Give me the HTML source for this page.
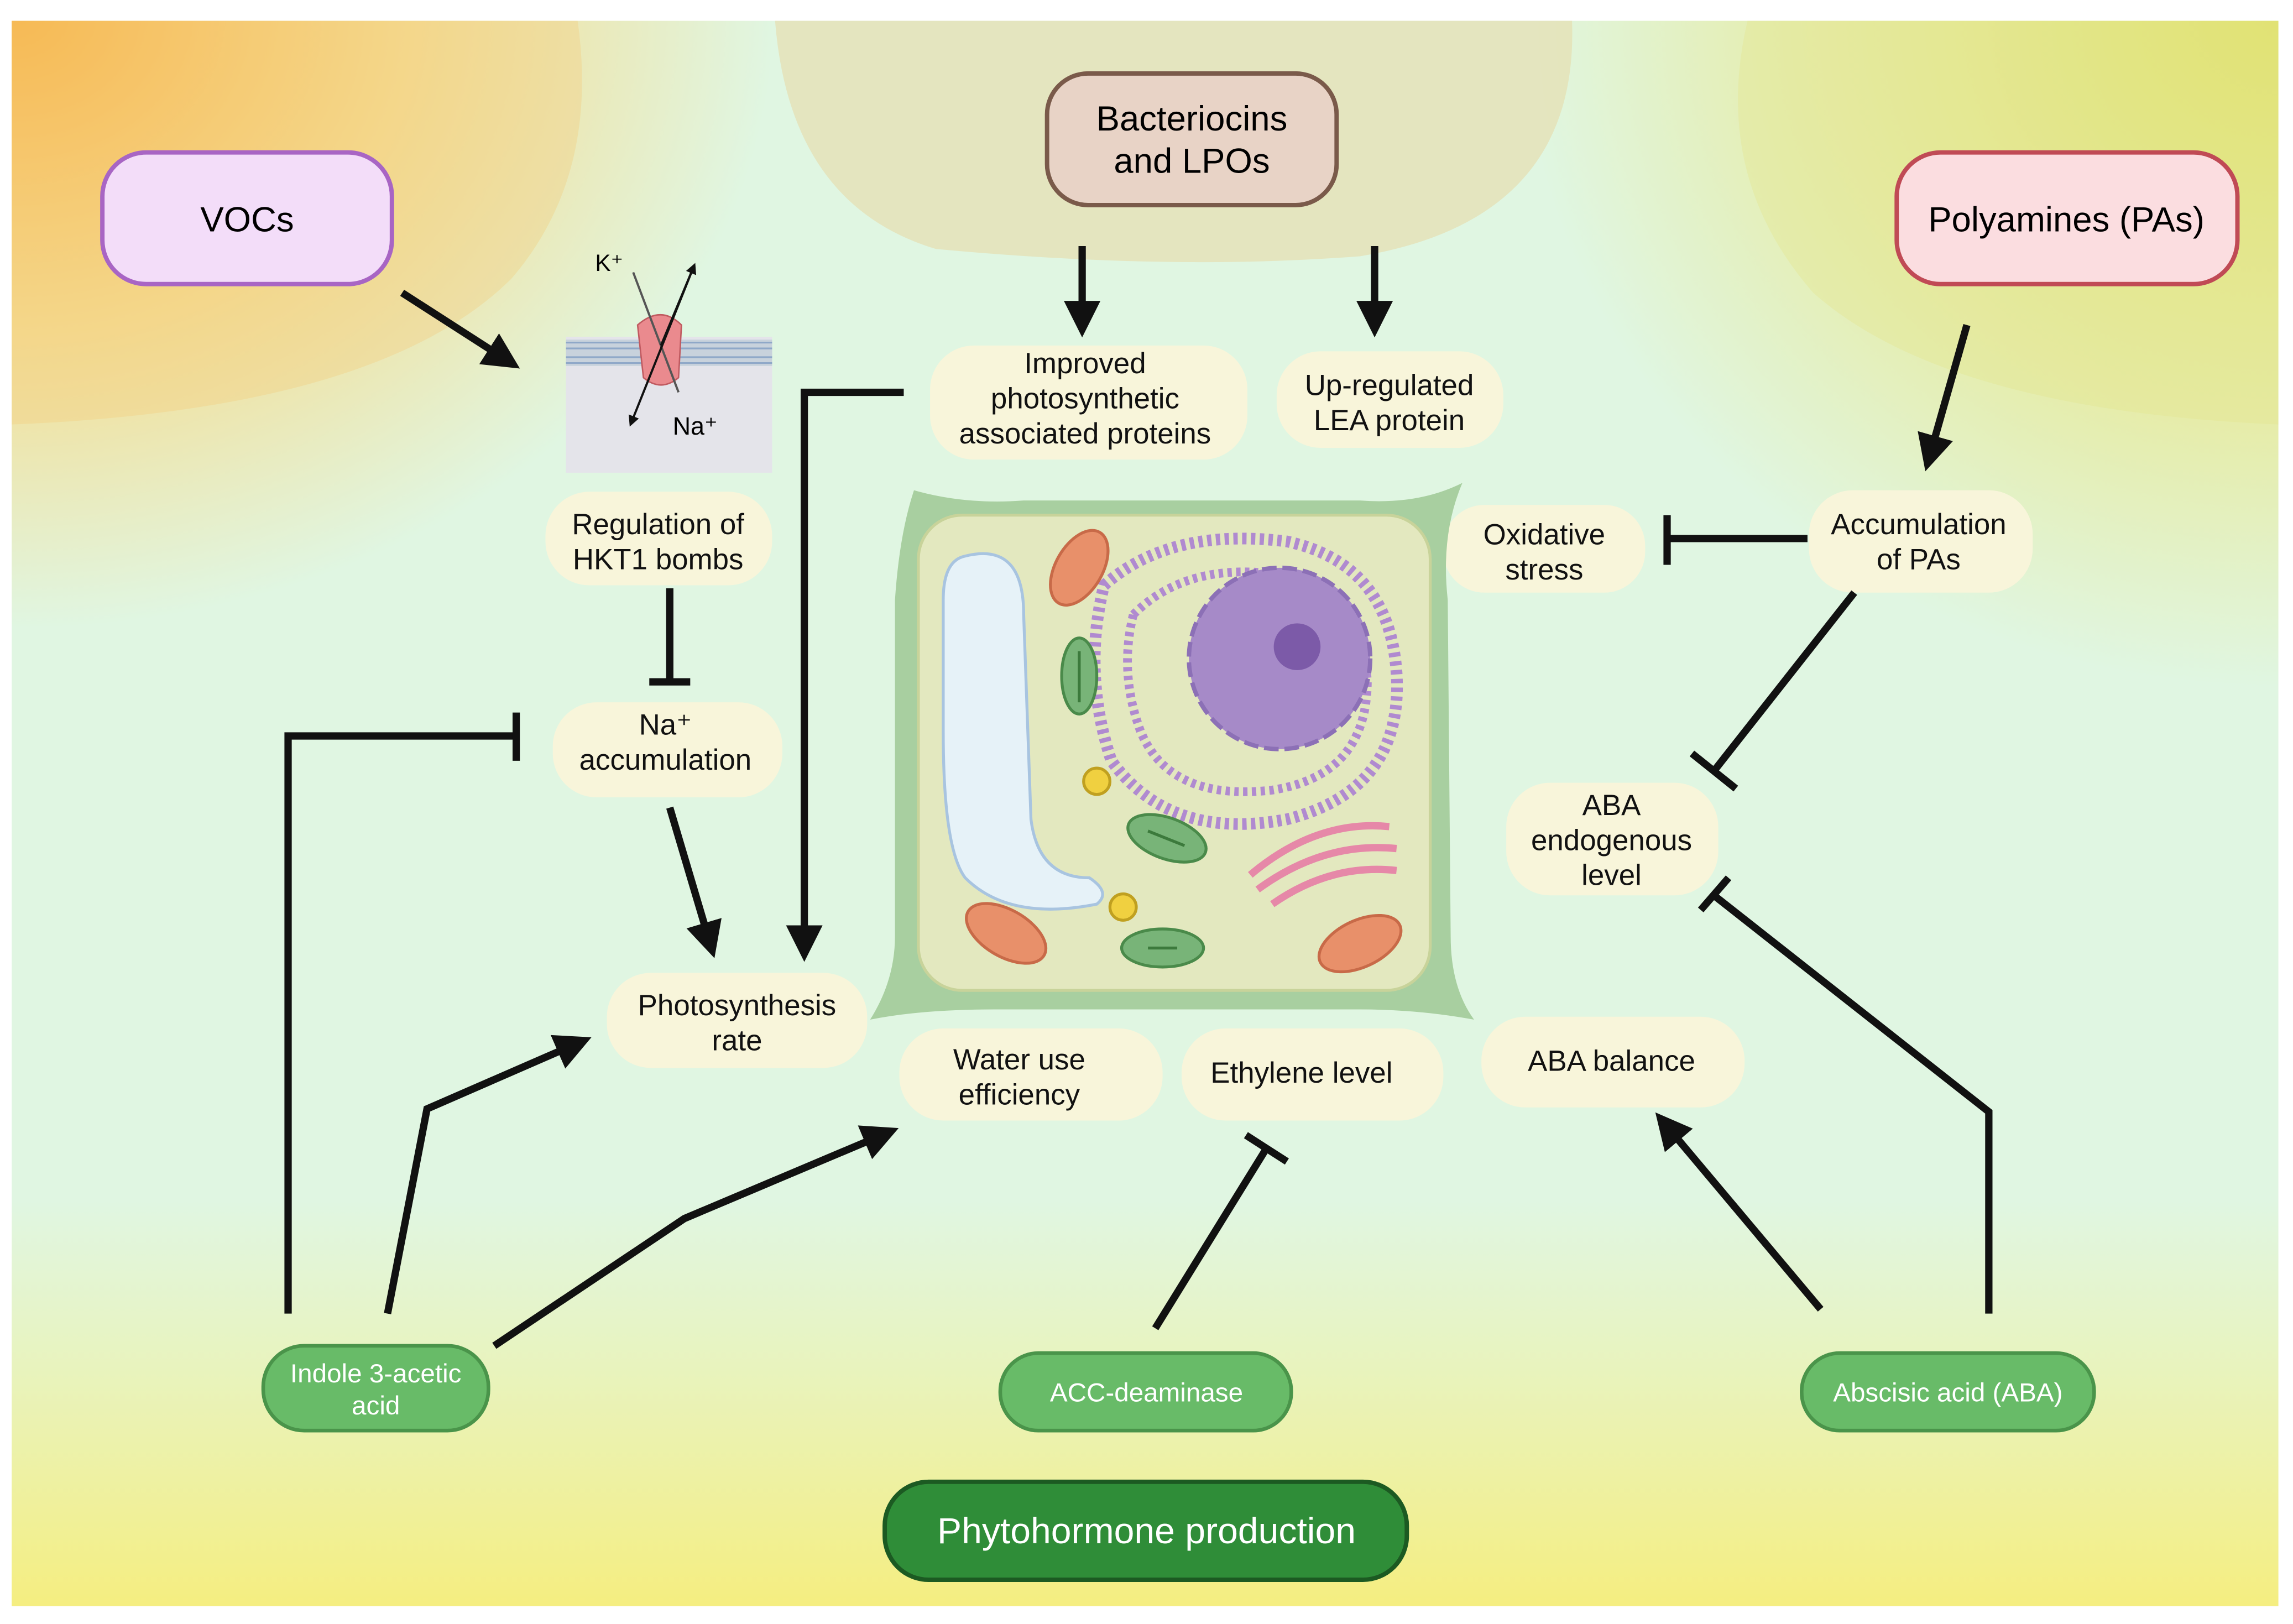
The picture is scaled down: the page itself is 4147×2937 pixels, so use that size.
<!DOCTYPE html>
<html><head><meta charset="utf-8"><style>
html,body{margin:0;padding:0;background:#fff}
svg{display:block}
text{font-family:"Liberation Sans",sans-serif;}
</style></head><body>
<svg width="4147" height="2937" viewBox="0 0 1568 1110" xmlns="http://www.w3.org/2000/svg">
<defs>
<radialGradient id="gtl" cx="0" cy="0" r="1" gradientUnits="userSpaceOnUse" gradientTransform="translate(10,10) scale(520,420)">
<stop offset="0" stop-color="#f8b040"/><stop offset="0.5" stop-color="#f5dc90"/><stop offset="1" stop-color="#f5dc90" stop-opacity="0"/></radialGradient>
<radialGradient id="gtr" cx="0" cy="0" r="1" gradientUnits="userSpaceOnUse" gradientTransform="translate(1560,10) scale(520,460)">
<stop offset="0" stop-color="#dfe060"/><stop offset="0.6" stop-color="#e6eca8"/><stop offset="1" stop-color="#e6eca8" stop-opacity="0"/></radialGradient>
<linearGradient id="gb" x1="0" y1="0" x2="0" y2="1"><stop offset="0" stop-color="#f3f090" stop-opacity="0"/><stop offset="1" stop-color="#f5ee80"/></linearGradient>
<marker id="ah" markerWidth="5" markerHeight="5" refX="2.5" refY="2.5" orient="auto" markerUnits="strokeWidth"><path d="M0,0 L5,2.5 L0,5 z" fill="#111"/></marker>
</defs>
<rect x="0" y="0" width="1568" height="1110" fill="#fff"/>
<rect x="8" y="14" width="1550" height="1084" fill="#e0f6e2"/>
<rect x="8" y="14" width="1550" height="1084" fill="url(#gtl)"/>
<rect x="8" y="14" width="1550" height="1084" fill="url(#gtr)"/>
<rect x="8" y="820" width="1550" height="278" fill="url(#gb)"/>
<path d="M8,14 H395 Q410,120 350,190 Q260,280 8,290 Z" fill="#f4cc7a" opacity="0.35"/>
<path d="M530,14 H1075 Q1080,150 930,175 Q800,185 640,170 Q540,140 530,14 Z" fill="#e6deb0" opacity="0.7"/>
<path d="M1558,14 H1195 Q1170,120 1240,200 Q1330,280 1558,290 Z" fill="#e4e690" opacity="0.4"/>

<rect x="70" y="104" width="198" height="90" rx="30" fill="#f3ddf9" stroke="#a865c4" stroke-width="3"/>
<text x="169" y="158" font-size="24" text-anchor="middle">VOCs</text>
<rect x="716" y="50" width="198" height="90" rx="28" fill="#e8d3c6" stroke="#7a5a4a" stroke-width="3"/>
<text x="815" y="89" font-size="24" text-anchor="middle">Bacteriocins</text>
<text x="815" y="118" font-size="24" text-anchor="middle">and LPOs</text>
<rect x="1297" y="104" width="233" height="90" rx="30" fill="#fbdde0" stroke="#c04a55" stroke-width="3"/>
<text x="1413" y="158" font-size="24" text-anchor="middle">Polyamines (PAs)</text>
<rect x="605" y="1013" width="357" height="67" rx="30" fill="#2f8d38" stroke="#1c5a22" stroke-width="3"/>
<text x="784" y="1055" font-size="25" fill="#fff" text-anchor="middle">Phytohormone production</text>

<g fill="#68bb68" stroke="#4a944a" stroke-width="2.5">
<rect x="180" y="920" width="154" height="58" rx="28"/>
<rect x="684" y="925" width="199" height="53" rx="26"/>
<rect x="1232" y="925" width="200" height="53" rx="26"/>
</g>
<g fill="#fff" font-size="18" text-anchor="middle">
<text x="257" y="945">Indole 3-acetic</text><text x="257" y="967">acid</text>
<text x="784" y="958">ACC-deaminase</text>
<text x="1332" y="958">Abscisic acid (ABA)</text>
</g>

<g fill="#f8f5da">
<rect x="636" y="236" width="217" height="78" rx="30"/>
<rect x="873" y="240" width="155" height="66" rx="30"/>
<rect x="373" y="336" width="155" height="64" rx="30"/>
<rect x="378" y="480" width="157" height="65" rx="30"/>
<rect x="415" y="665" width="178" height="65" rx="30"/>
<rect x="615" y="703" width="180" height="63" rx="30"/>
<rect x="808" y="703" width="179" height="63" rx="30"/>
<rect x="1013" y="695" width="180" height="62" rx="30"/>
<rect x="1030" y="535" width="145" height="77" rx="30"/>
<rect x="987" y="345" width="138" height="60" rx="28"/>
<rect x="1237" y="335" width="153" height="70" rx="30"/>
</g>
<g font-size="20" text-anchor="middle" fill="#111">
<text x="742" y="255">Improved</text><text x="742" y="279">photosynthetic</text><text x="742" y="303">associated proteins</text>
<text x="950" y="270">Up-regulated</text><text x="950" y="294">LEA protein</text>
<text x="450" y="365">Regulation of</text><text x="450" y="389">HKT1 bombs</text>
<text x="455" y="502">Na⁺</text><text x="455" y="526">accumulation</text>
<text x="504" y="694">Photosynthesis</text><text x="504" y="718">rate</text>
<text x="697" y="731">Water use</text><text x="697" y="755">efficiency</text>
<text x="890" y="740">Ethylene level</text>
<text x="1102" y="732">ABA balance</text>
<text x="1102" y="557">ABA</text><text x="1102" y="581">endogenous</text><text x="1102" y="605">level</text>
<text x="1056" y="372">Oxidative</text><text x="1056" y="396">stress</text>
<text x="1312" y="365">Accumulation</text><text x="1312" y="389">of PAs</text>
</g>

<rect x="387" y="230" width="141" height="93" fill="#e4e4ea"/>
<rect x="387" y="232" width="141" height="18" fill="#c8d2dc"/>
<g stroke="#8fa8c8" stroke-width="1.2"><line x1="387" y1="234" x2="528" y2="234"/><line x1="387" y1="238" x2="528" y2="238"/><line x1="387" y1="244" x2="528" y2="244"/><line x1="387" y1="248" x2="528" y2="248"/></g>
<path d="M436,222 Q452,208 466,222 L464,258 Q452,268 440,258 Z" fill="#ea8a8e" stroke="#c05a60"/>
<line x1="433" y1="186" x2="464" y2="268" stroke="#555" stroke-width="1.5"/>
<line x1="474" y1="183" x2="432" y2="288" stroke="#111" stroke-width="1.5" marker-end="url(#ah)"/>
<line x1="452" y1="236" x2="474" y2="183" stroke="#111" stroke-width="1.5" marker-end="url(#ah)"/>
<text x="407" y="185" font-size="16">K⁺</text>
<text x="460" y="297" font-size="17">Na⁺</text>

<path d="M625,335 Q660,345 700,342 L930,342 Q970,345 1000,330 Q985,365 990,410 L992,640 Q992,675 1008,697 Q970,690 930,690 L680,690 Q630,690 595,697 Q612,670 612,640 L612,410 Q615,365 625,335 Z" fill="#a8cfa0"/>
<rect x="628" y="352" width="350" height="325" rx="30" fill="#e3e8bf" stroke="#c8d39a" stroke-width="2"/>
<path d="M660,380 Q700,370 700,420 L705,560 Q710,600 745,600 Q760,610 750,618 Q690,630 660,600 Q645,580 645,500 L645,410 Q645,383 660,380 Z" fill="#e6f2f8" stroke="#a8c4e0" stroke-width="2"/>
<path d="M755,400 Q800,360 880,370 Q950,385 955,460 Q960,540 880,560 Q800,575 760,520 Q740,460 755,400 Z" fill="none" stroke="#b08ad0" stroke-width="8" stroke-dasharray="3 3"/>
<path d="M775,420 Q810,385 870,392 Q930,405 935,465 Q935,530 870,540 Q800,548 780,500 Q765,460 775,420 Z" fill="none" stroke="#b08ad0" stroke-width="6" stroke-dasharray="3 3"/>
<circle cx="875" cy="450" r="62" fill="#a68ac8" stroke="#8c70b6" stroke-width="3" stroke-dasharray="10 4"/>
<circle cx="887" cy="442" r="16" fill="#7c5aa8"/>
<g fill="none" stroke="#e688a8" stroke-width="5">
<path d="M855,598 Q900,560 950,565"/><path d="M860,608 Q905,575 955,580"/><path d="M870,618 Q910,590 955,595"/>
</g>
<g fill="#e8906a" stroke="#c86a48" stroke-width="2">
<ellipse cx="738" cy="388" rx="16" ry="28" transform="rotate(30 738 388)"/>
<ellipse cx="688" cy="638" rx="30" ry="16" transform="rotate(30 688 638)"/>
<ellipse cx="930" cy="645" rx="30" ry="16" transform="rotate(-25 930 645)"/>
</g>
<g fill="#78b478" stroke="#4a8a4a" stroke-width="2">
<ellipse cx="738" cy="462" rx="12" ry="26"/>
<ellipse cx="798" cy="573" rx="28" ry="14" transform="rotate(20 798 573)"/>
<ellipse cx="795" cy="648" rx="28" ry="13"/>
</g>
<g stroke="#3c7a3c" stroke-width="2"><line x1="738" y1="445" x2="738" y2="480"/><line x1="785" y1="648" x2="805" y2="648"/><line x1="785" y1="568" x2="810" y2="578"/></g>
<circle cx="750" cy="534" r="9" fill="#f0d040" stroke="#c0a020" stroke-width="2"/>
<circle cx="768" cy="620" r="9" fill="#f0d040" stroke="#c0a020" stroke-width="2"/>

<g stroke="#111" stroke-width="5" fill="none" stroke-linecap="butt">
<line x1="275" y1="200" x2="345" y2="245" marker-end="url(#ah)"/>
<line x1="740" y1="168" x2="740" y2="218" marker-end="url(#ah)"/>
<line x1="940" y1="168" x2="940" y2="218" marker-end="url(#ah)"/>
<polyline points="618,268 550,268 550,645" marker-end="url(#ah)"/>
<line x1="1345" y1="222" x2="1320" y2="310" marker-end="url(#ah)"/>
<line x1="1236" y1="368" x2="1140" y2="368"/><line x1="1140" y1="352" x2="1140" y2="386"/>
<line x1="1268" y1="405" x2="1172" y2="527"/><line x1="1157" y1="515" x2="1187" y2="539"/>
<line x1="458" y1="402" x2="458" y2="466"/><line x1="444" y1="466" x2="472" y2="466"/>
<polyline points="197,898 197,503 353,503"/><line x1="353" y1="487" x2="353" y2="520"/>
<line x1="458" y1="552" x2="485" y2="643" marker-end="url(#ah)"/>
<polyline points="265,898 292,758 393,714" marker-end="url(#ah)"/>
<polyline points="338,920 468,833 603,776" marker-end="url(#ah)"/>
<line x1="790" y1="908" x2="866" y2="785"/><line x1="852" y1="776" x2="880" y2="794"/>
<line x1="1245" y1="895" x2="1140" y2="770" marker-end="url(#ah)"/>
<polyline points="1360,898 1360,760 1172,612"/><line x1="1163" y1="622" x2="1182" y2="600"/>
</g>
</svg>
</body></html>
